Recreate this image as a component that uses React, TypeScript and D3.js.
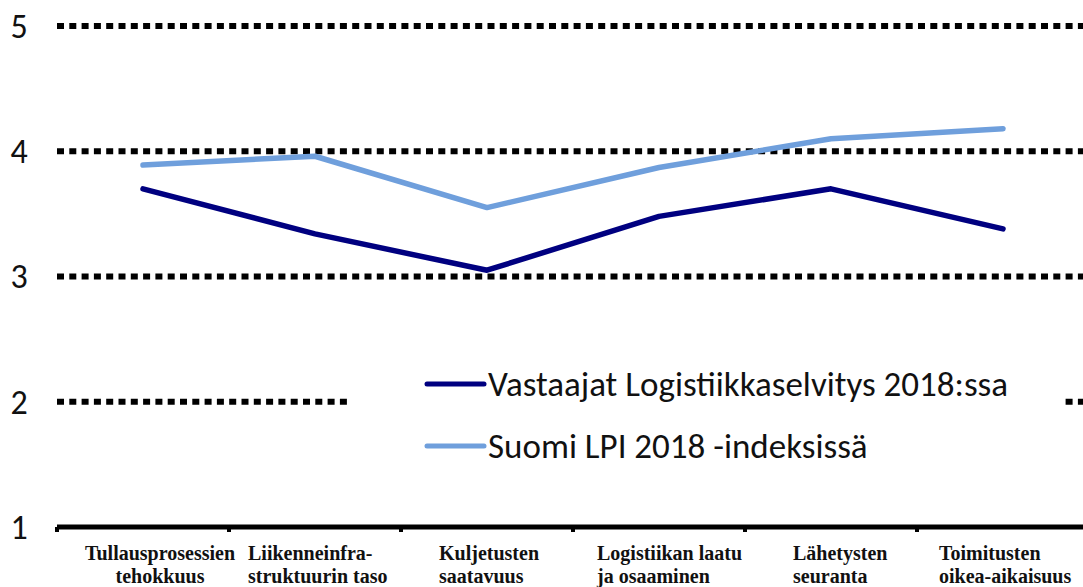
import React from "react";
import * as d3 from "d3";

const categories = [
  ["Tullausprosessien", "tehokkuus"],
  ["Liikenneinfra-", "struktuurin taso"],
  ["Kuljetusten", "saatavuus"],
  ["Logistiikan laatu", "ja osaaminen"],
  ["Lähetysten", "seuranta"],
  ["Toimitusten", "oikea-aikaisuus"],
];
const seriesNames = ["Vastaajat Logistiikkaselvitys 2018:ssa", "Suomi LPI 2018 -indeksissä"];
const respondents = [3.7, 3.34, 3.05, 3.48, 3.7, 3.38];
const lpi = [3.89, 3.96, 3.55, 3.87, 4.1, 4.18];
const yTicks = [1, 2, 3, 4, 5];

// layout: label x offsets relative to band start, and anchor
const labelLayout = [
  { dx: 103, anchor: "middle" },
  { dx: 19, anchor: "start" },
  { dx: 38, anchor: "start" },
  { dx: 24, anchor: "start" },
  { dx: 48, anchor: "start" },
  { dx: 22, anchor: "start" },
];

const W = 1083;
const H = 587;

export default function App() {
  const keys = categories.map((c) => c.join(" "));
  const x = d3.scaleBand<string>().domain(keys).range([57, 57 + 6 * 172]);
  const y = d3.scaleLinear().domain([1, 5]).range([527, 26]);
  const cx = (i: number) => (x(keys[i]) as number) + x.bandwidth() / 2;
  const line = d3
    .line<number>()
    .x((_, i) => cx(i))
    .y((d) => y(d));
  const series = [
    { name: seriesNames[0], values: respondents, color: "#000080" },
    { name: seriesNames[1], values: lpi, color: "#6f9fdc" },
  ];
  const sans = "Carlito, 'Open Sans', 'Noto Sans', sans-serif";
  const serif = "'Liberation Serif', 'DejaVu Serif', serif";
  return (
    <svg
      width={W}
      height={H}
      style={{ position: "absolute", left: 0, top: 0, display: "block", background: "#fff" }}
    >
      {yTicks.map((t) => (
        <g key={t}>
          <text
            x={19}
            y={y(t)}
            dy="0.35em"
            textAnchor="middle"
            fontFamily={sans}
            fontSize={34}
            fill="#111"
          >
            {t}
          </text>
          {t > 1 && (
            <line
              x1={57}
              x2={W + 10}
              y1={y(t)}
              y2={y(t)}
              stroke="#000"
              strokeWidth={6}
              strokeDasharray="7 5.3"
            />
          )}
        </g>
      ))}
      {/* x axis */}
      <line x1={57} x2={W + 10} y1={y(1)} y2={y(1)} stroke="#000" strokeWidth={5} />
      {d3.range(7).map((i) => (
        <rect key={i} x={57 + i * 172 - 2} y={y(1)} width={4} height={5} fill="#000" />
      ))}
      {categories.map((c, i) => {
        const bx = x(keys[i]) as number;
        const L = labelLayout[i];
        return (
          <text
            key={i}
            fontFamily={serif}
            fontWeight="bold"
            fontSize={20}
            fill="#111"
            textAnchor={L.anchor}
          >
            {c.map((ln, j) => (
              <tspan key={j} x={bx + L.dx} y={560 + j * 23}>
                {ln}
              </tspan>
            ))}
          </text>
        );
      })}
      {/* legend box */}
      <rect x={347} y={345} width={716} height={125} fill="#fff" />
      {series.map((s, k) => (
        <g key={k}>
          <line
            x1={427}
            x2={484}
            y1={384 + k * 62}
            y2={384 + k * 62}
            stroke={s.color}
            strokeWidth={5}
            strokeLinecap="round"
          />
          <text x={488} y={384 + k * 62} dy="0.35em" fontFamily={sans} fontSize={35} fill="#111">
            {s.name}
          </text>
        </g>
      ))}
      {series.map((s, k) => (
        <path
          key={k}
          d={line(s.values) as string}
          fill="none"
          stroke={s.color}
          strokeWidth={5.5}
          strokeLinecap="round"
          strokeLinejoin="round"
        />
      ))}
    </svg>
  );
}
